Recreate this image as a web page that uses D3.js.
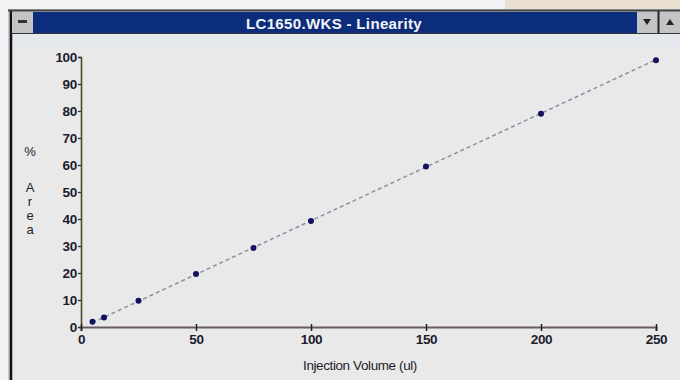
<!DOCTYPE html>
<html>
<head>
<meta charset="utf-8">
<script src="https://cdn.jsdelivr.net/npm/d3@7"></script>
<style>
  body { margin: 0; background: #eeeef0; }
  text { font-family: "Liberation Sans", Arial, sans-serif; }
</style>
</head>
<body>
<div id="chart"></div>
<script>
var volumes = [5, 10, 25, 50, 75, 100, 150, 200, 250];
var areas = [1.9, 3.5, 9.7, 19.6, 29.3, 39.3, 59.4, 79.0, 98.8];
var fitX = [5, 250];
var fitY = [1.6, 99];
var xTicks = [0, 50, 100, 150, 200, 250];
var yTicks = [0, 10, 20, 30, 40, 50, 60, 70, 80, 90, 100];
var yLabel = ["%", "A", "r", "e", "a"];
var title = "LC1650.WKS - Linearity";
var xTitle = "Injection Volume (ul)";

var W = 680, H = 380;
var margin = {top: 57, right: 24, bottom: 53, left: 81};
var tickFont = "'Liberation Sans', Arial, sans-serif";

var svg = d3.select("#chart").append("svg")
    .attr("width", W).attr("height", H);

// desktop behind the window
svg.append("rect").attr("x", 0).attr("y", 0).attr("width", W).attr("height", H).attr("fill", "#f2f2f4");
svg.append("rect").attr("x", 505).attr("y", 0).attr("width", 175).attr("height", 10).attr("fill", "#e9e0d2");

// window frame
svg.append("rect").attr("x", 8).attr("y", 9).attr("width", 680).attr("height", 380)
    .attr("fill", "#c8c8cc");
svg.append("rect").attr("x", 11).attr("y", 34).attr("width", 669).attr("height", 346)
    .attr("fill", "#e9e9ea");
svg.append("rect").attr("x", 11).attr("y", 34).attr("width", 669).attr("height", 14)
    .attr("fill", "#e5e9ee");
svg.append("line").attr("x1", 11).attr("x2", 11).attr("y1", 10).attr("y2", 380)
    .attr("stroke", "#111").attr("stroke-width", 2.5);
svg.append("line").attr("x1", 8).attr("x2", 680).attr("y1", 10.5).attr("y2", 10.5)
    .attr("stroke", "#444").attr("stroke-width", 2);

// title bar
svg.append("rect").attr("x", 33).attr("y", 12).attr("width", 604).attr("height", 21).attr("fill", "#0b2d7c");
svg.append("text").attr("x", 334).attr("y", 29).attr("text-anchor", "middle")
    .attr("fill", "#f4f4f8").attr("font-size", 15).attr("font-weight", "bold")
    .attr("letter-spacing", 0.35)
    .text(title);

// system menu and buttons
var btn = svg.append("g");
btn.append("rect").attr("x", 12).attr("y", 12).attr("width", 21).attr("height", 21).attr("fill", "#c4c4c6");
btn.append("rect").attr("x", 18).attr("y", 20).attr("width", 9).attr("height", 3).attr("fill", "#333");
btn.append("rect").attr("x", 637).attr("y", 12).attr("width", 20).attr("height", 21).attr("fill", "#c4c4c6");
btn.append("rect").attr("x", 660).attr("y", 12).attr("width", 20).attr("height", 21).attr("fill", "#c4c4c6");
btn.append("line").attr("x1", 658.5).attr("x2", 658.5).attr("y1", 11).attr("y2", 33).attr("stroke", "#222").attr("stroke-width", 2);
btn.append("path").attr("d", "M643,19 L651,19 L647,25 Z").attr("fill", "#222");
btn.append("path").attr("d", "M666,25 L674,25 L670,19 Z").attr("fill", "#222");
svg.append("line").attr("x1", 11).attr("x2", 680).attr("y1", 33.5).attr("y2", 33.5)
    .attr("stroke", "#333").attr("stroke-width", 1);

// scales
var x = d3.scaleLinear().domain([0, 250]).range([margin.left, W - margin.right]);
var y = d3.scaleLinear().domain([0, 100]).range([H - margin.bottom, margin.top]);

// y axis
var yAxis = d3.axisLeft(y).tickValues(yTicks).tickSize(3).tickPadding(1);
var gy = svg.append("g").attr("transform", `translate(${margin.left},0)`).call(yAxis);
gy.select(".domain").attr("stroke", "#4e4a2c").attr("stroke-width", 1.6);
gy.selectAll(".tick line").attr("stroke", "#333").attr("stroke-width", 1.3);
gy.selectAll(".tick text").attr("font-size", 13.5).attr("fill", "#1c1c2c")
    .attr("font-weight", "bold").attr("font-family", tickFont)
    .attr("letter-spacing", -0.3);

// x axis
var xAxis = d3.axisBottom(x).tickValues(xTicks).tickSize(4).tickPadding(3);
var gx = svg.append("g").attr("transform", `translate(0,${H - margin.bottom})`).call(xAxis);
gx.select(".domain").attr("stroke", "#6a5c5a").attr("stroke-width", 2);
gx.selectAll(".tick line").attr("stroke", "#222").attr("stroke-width", 1.5).attr("y1", -3);
gx.selectAll(".tick text").attr("font-size", 13.5).attr("fill", "#1c1c2c")
    .attr("font-weight", "bold").attr("font-family", tickFont)
    .attr("letter-spacing", -0.3);

// axis titles
svg.append("text").attr("x", 360).attr("y", 370).attr("text-anchor", "middle")
    .attr("font-size", 13.5).attr("fill", "#1c1c2c")
    .attr("letter-spacing", -0.4)
    .text(xTitle);
svg.selectAll(".ylab").data(yLabel).enter().append("text")
    .attr("class", "ylab")
    .attr("x", 30)
    .attr("y", (d, i) => i == 0 ? 156 : 178 + i * 14)
    .attr("text-anchor", "middle").attr("font-size", 13).attr("fill", "#222")
    .text(d => d);

// fit line
var line = d3.line().x(d => x(d[0])).y(d => y(d[1]));
svg.append("path")
    .datum(d3.zip(fitX, fitY))
    .attr("fill", "none")
    .attr("stroke", "#8c8ea4")
    .attr("stroke-width", 1.5)
    .attr("stroke-dasharray", "4,3")
    .attr("d", line);

// points
svg.selectAll(".pt").data(d3.zip(volumes, areas)).enter().append("circle")
    .attr("class", "pt")
    .attr("cx", d => x(d[0]))
    .attr("cy", d => y(d[1]))
    .attr("r", 3)
    .attr("fill", "#12125e");
</script>
</body>
</html>
